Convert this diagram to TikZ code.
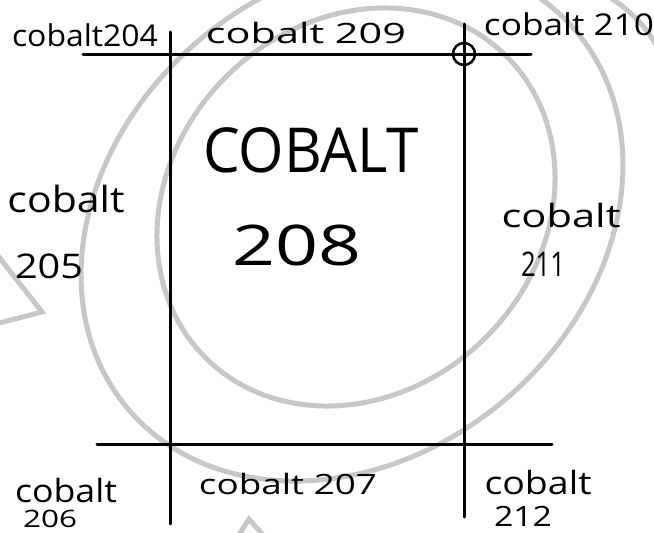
\documentclass[tikz,border=0pt]{standalone}
\usepackage{fontspec}
\setmainfont{Open Sans}
\tikzset{
  wall/.style={line width=3pt, line cap=round},
  wmark/.style={draw=black!22, line width=5pt},
  lbl/.style={inner sep=0pt, anchor=center, text=black},
  pinring/.style={circle, draw, line width=2.5pt, minimum size=22pt, inner sep=0pt},
}
\newcommand{\fitt}[3]{\resizebox{#1pt}{\height}{\fontsize{#2}{#2}\selectfont #3}}
\begin{document}
\begin{tikzpicture}[x=1pt,y=-1pt]
\useasboundingbox (0,0) rectangle (654,533);
\clip (0,0) rectangle (654,533);
% watermark
\draw[wmark, rotate around={45:(356,207)}] (356,207) ellipse (213 and 184);
\draw[wmark, rotate around={40:(352,220)}] (352,220) ellipse (293 and 236);
\draw[wmark] (606,-5) .. controls (630,10) and (645,25) .. (658,48);
\draw[wmark] (-5,252) -- (42,312) -- (-5,324);
\draw[wmark] (238,536) -- (249,519) -- (264,536);
% walls
\coordinate (tl) at (83,54);
\coordinate (tr) at (531,54);
\coordinate (lt) at (170,32);
\coordinate (lb) at (170,524);
\coordinate (rt) at (464,24);
\coordinate (rb) at (464,517);
\coordinate (bl) at (97,444);
\coordinate (br) at (552,444);
\draw[wall] (tl) -- (tr);
\draw[wall] (lt) -- (lb);
\draw[wall] (rt) -- (rb);
\draw[wall] (bl) -- (br);
\node[pinring] (pin) at (464,54) {};
% labels
\node[lbl] (c204) at (85,35) {\fitt{146}{30}{cobalt204}};
\node[lbl] (c209) at (306,33) {\fitt{200}{28}{cobalt 209}};
\node[lbl] (c210) at (569,24) {\fitt{170}{30}{cobalt 210}};
\node[lbl] (big) at (311,150) {\fitt{216}{62}{COBALT}};
\node[lbl] (big2) at (297,245) {\fitt{129}{56}{208}};
\node[lbl] (c205a) at (66,199) {\fitt{117}{36}{cobalt}};
\node[lbl] (c205b) at (49,266) {\fitt{68}{34}{205}};
\node[lbl] (c211a) at (561,215) {\fitt{119}{32}{cobalt}};
\node[lbl] (c211b) at (543,264) {\fitt{44}{34}{211}};
\node[lbl] (c207) at (288,484) {\fitt{178}{28}{cobalt 207}};
\node[lbl] (c206a) at (66,490) {\fitt{102}{32}{cobalt}};
\node[lbl] (c206b) at (50,519) {\fitt{54}{24}{206}};
\node[lbl] (c212a) at (538,482) {\fitt{107}{32}{cobalt}};
\node[lbl] (c212b) at (523,516) {\fitt{58}{28}{212}};
\end{tikzpicture}
\end{document}
